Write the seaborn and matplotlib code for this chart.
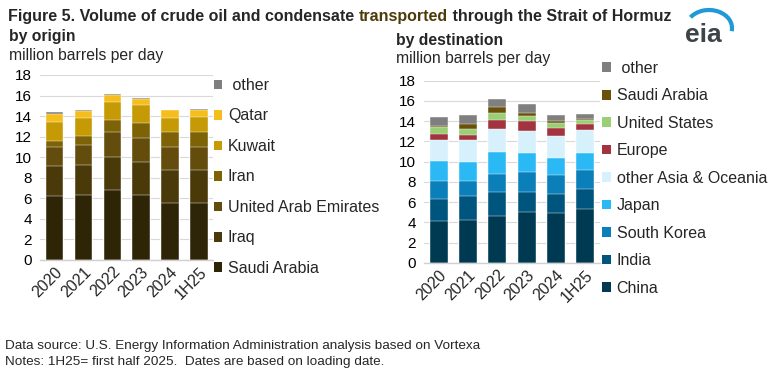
import numpy as np
import pandas as pd
import matplotlib
matplotlib.use("Agg")
import matplotlib.pyplot as plt
from matplotlib.patches import Patch, Arc
import seaborn as sns

sns.set_style("white")
plt.rcParams['font.family'] = ['Liberation Sans', 'DejaVu Sans']

years = ['2020', '2021', '2022', '2023', '2024', '1H25']

# by origin (million b/d), bottom -> top
origin_names = ['Saudi Arabia', 'Iraq', 'United Arab Emirates', 'Iran', 'Kuwait', 'Qatar', ' other']
saudi = [6.2, 6.3, 6.85, 6.3, 5.5, 5.5]
iraq = [2.9, 2.9, 3.2, 3.2, 3.3, 3.3]
uae = [1.9, 1.95, 2.45, 2.35, 2.15, 2.15]
iran = [0.55, 0.9, 1.1, 1.5, 1.5, 1.5]
kuwait = [1.85, 1.75, 1.75, 1.7, 1.4, 1.45]
qatar = [0.8, 0.7, 0.7, 0.65, 0.7, 0.7]
origin_other = [0.16, 0.08, 0.1, 0.1, 0.07, 0.08]
origin_colors = ['#2E2406', '#4A3A0A', '#634C0C', '#7E6206', '#C59A04', '#F6BE1D', '#7F7F7F']

# by destination (million b/d), bottom -> top
dest_names = ['China', 'India', 'South Korea', 'Japan', 'other Asia & Oceania',
              'Europe', 'United States', 'Saudi Arabia', ' other']
china = [4.1, 4.2, 4.65, 5.0, 4.95, 5.3]
india = [2.2, 2.4, 2.35, 2.05, 1.85, 2.05]
s_korea = [1.8, 1.5, 1.8, 1.9, 1.9, 1.8]
japan = [2.0, 1.9, 2.15, 1.9, 1.7, 1.7]
other_asia = [2.05, 2.15, 2.25, 2.15, 2.1, 2.25]
europe = [0.6, 0.5, 0.9, 1.0, 0.85, 0.6]
usa = [0.65, 0.6, 0.7, 0.5, 0.5, 0.4]
saudi_dest = [0.15, 0.5, 0.6, 0.3, 0.2, 0.1]
dest_other = [0.9, 0.9, 0.8, 0.95, 0.55, 0.5]
dest_colors = ['#003A52', '#00557E', '#0A7FB9', '#2BB9F5', '#D7F1FC',
               '#A3343F', '#9ACF76', '#6A5009', '#7F7F7F']

origin = [saudi, iraq, uae, iran, kuwait, qatar, origin_other]
dest = [china, india, s_korea, japan, other_asia, europe, usa, saudi_dest, dest_other]

fig = plt.figure(figsize=(7.74, 3.75), dpi=100)
ax1 = fig.add_axes([0.0517, 0.3067, 0.224, 0.4933])
ax2 = fig.add_axes([0.548, 0.2987, 0.227, 0.486])


def stacked(ax, series, names, colors, width):
    cum = np.cumsum(np.array(series), axis=0)
    # draw from the top layer down so lower layers cover upper ones
    for i in range(len(series) - 1, -1, -1):
        df = pd.DataFrame({'year': years, 'value': cum[i]})
        sns.barplot(data=df, x='year', y='value', color=colors[i], width=width,
                    saturation=1, edgecolor='#FFFFFF', linewidth=0.3, ax=ax)
    ax.set_ylim(0, 18)
    ax.set_xlim(-0.5, len(years) - 0.5)
    ax.set_yticks(range(0, 19, 2))
    ax.yaxis.grid(True, color='#D9D9D9', linewidth=0.8)
    ax.set_axisbelow(True)
    for s in ['top', 'right', 'left']:
        ax.spines[s].set_visible(False)
    ax.spines['bottom'].set_color('#D0D0D0')
    ax.spines['bottom'].set_linewidth(1)
    ax.set_xlabel('')
    ax.set_ylabel('')
    ax.tick_params(axis='y', length=0, labelsize=11, pad=6, colors='#000000')
    ax.tick_params(axis='x', which='major', length=0, labelsize=11.5, pad=3)
    ax.set_xticks(np.arange(len(years) + 1) - 0.5, minor=True)
    ax.tick_params(axis='x', which='minor', length=5, color='#D0D0D0', width=1)
    plt.setp(ax.get_xticklabels(), rotation=45, ha='right', rotation_mode='anchor')
    handles = [Patch(facecolor=c, edgecolor='none') for c in colors]
    return handles[::-1], names[::-1]


h1, l1 = stacked(ax1, origin, origin_names, origin_colors, 0.6)
h2, l2 = stacked(ax2, dest, dest_names, dest_colors, 0.62)

fig.legend(h1, l1, loc='upper left', bbox_to_anchor=(0.276, 0.792), frameon=False,
           fontsize=11.5, handlelength=0.55, handleheight=0.55, handletextpad=0.35,
           labelspacing=0.97, borderpad=0, borderaxespad=0)
fig.legend(h2, l2, loc='upper left', bbox_to_anchor=(0.778, 0.8375), frameon=False,
           fontsize=11.5, handlelength=0.55, handleheight=0.55, handletextpad=0.35,
           labelspacing=0.78, borderpad=0, borderaxespad=0)

# titles
ty = 1 - 21 / 375
t1 = fig.text(8 / 774, ty, 'Figure 5. Volume of crude oil and condensate ',
              fontsize=11.5, fontweight='bold', va='baseline', ha='left')
fig.canvas.draw()
bb = t1.get_window_extent()
t2 = fig.text(bb.x1 / fig.bbox.width, ty, 'transported', fontsize=11.5, fontweight='bold',
              color='#4D3B0A', va='baseline', ha='left')
bb2 = t2.get_window_extent()
fig.text(bb2.x1 / fig.bbox.width, ty, ' through the Strait of Hormuz',
         fontsize=11.5, fontweight='bold', va='baseline', ha='left')

fig.text(9 / 774, 1 - 41 / 375, 'by origin', fontsize=11.3, fontweight='bold', va='baseline')
fig.text(9 / 774, 1 - 60 / 375, 'million barrels per day', fontsize=11.3, va='baseline')
fig.text(396 / 774, 1 - 45 / 375, 'by destination', fontsize=11.3, fontweight='bold', va='baseline')
fig.text(396 / 774, 1 - 63 / 375, 'million barrels per day', fontsize=11.3, va='baseline')

fig.text(5 / 774, 1 - 349 / 375, 'Data source: U.S. Energy Information Administration analysis based on Vortexa',
         fontsize=9.7, va='baseline')
fig.text(5 / 774, 1 - 365 / 375, 'Notes: 1H25= first half 2025.  Dates are based on loading date.',
         fontsize=9.7, va='baseline')

# eia logo
fig.text(685 / 774, 1 - 42 / 375, 'eia', fontsize=19, fontweight='bold', color='#3C4448',
         va='baseline', ha='left')
lax = fig.add_axes([680 / 774, 1 - 45 / 375, 60 / 774, 40 / 375])
lax.set_xlim(0, 60)
lax.set_ylim(0, 40)
lax.axis('off')
lax.add_patch(Arc((29, 17), 46, 36, theta1=-8, theta2=150, color='#1F9AD6', lw=3))

fig.savefig('out.png', dpi=100)
